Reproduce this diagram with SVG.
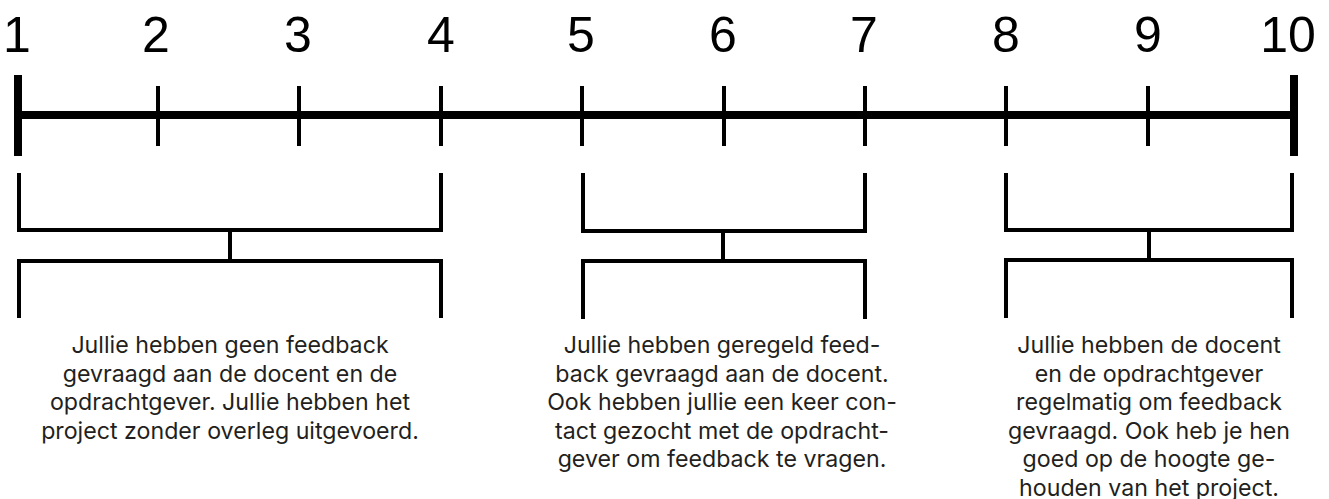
<svg xmlns="http://www.w3.org/2000/svg" width="1329" height="499" viewBox="0 0 1329 499">
<style>
.num{font-family:"Liberation Sans",Arial,sans-serif;font-size:50px;fill:#000;text-anchor:middle}
.txt{font-family:Inter,"Liberation Sans",sans-serif;font-size:23.2px;fill:#231f20;text-anchor:middle}
.axis{stroke:#000;stroke-width:8;fill:none}
.tick{stroke:#000;stroke-width:4;fill:none}
.br{stroke:#000;stroke-width:4;fill:none;stroke-linecap:butt}
</style>
<rect width="1329" height="499" fill="#fff"/>
<g id="scale">
<line class="axis" x1="18" y1="115" x2="1294" y2="115"/>
<line class="axis" x1="18" y1="75" x2="18" y2="156"/>
<line class="axis" x1="1294" y1="75" x2="1294" y2="156"/>
<g class="tick">
<line x1="158" y1="86" x2="158" y2="146"/>
<line x1="299" y1="86" x2="299" y2="146"/>
<line x1="441" y1="86" x2="441" y2="146"/>
<line x1="582" y1="86" x2="582" y2="146"/>
<line x1="724" y1="86" x2="724" y2="146"/>
<line x1="865" y1="86" x2="865" y2="146"/>
<line x1="1006" y1="86" x2="1006" y2="146"/>
<line x1="1148" y1="86" x2="1148" y2="146"/>
</g>
</g>
<g id="numbers">
<text class="num" x="17" y="52">1</text>
<text class="num" x="156" y="52">2</text>
<text class="num" x="298" y="52">3</text>
<text class="num" x="441" y="52">4</text>
<text class="num" x="581" y="52">5</text>
<text class="num" x="723" y="52">6</text>
<text class="num" x="864" y="52">7</text>
<text class="num" x="1006" y="52">8</text>
<text class="num" x="1148" y="52">9</text>
<text class="num" x="1288" y="52">10</text>
</g>
<g id="connectors">
<path class="br" d="M19,173 V230 H441 V173 M230,230 V261 M19,318 V261 H441 V318"/>
<path class="br" d="M583,173 V231 H865 V173 M723,231 V261 M583,319 V261 H865 V319"/>
<path class="br" d="M1006,173 V230 H1292 V173 M1149,230 V260 M1006,318 V260 H1292 V318"/>
</g>
<g id="node-low">
<text class="txt" x="230" y="353">Jullie hebben geen feedback</text>
<text class="txt" x="230" y="381.5">gevraagd aan de docent en de</text>
<text class="txt" x="230" y="410">opdrachtgever. Jullie hebben het</text>
<text class="txt" x="230" y="438.5">project zonder overleg uitgevoerd.</text>
</g>
<g id="node-mid">
<text class="txt" x="722" y="353">Jullie hebben geregeld feed-</text>
<text class="txt" x="722" y="381.5">back gevraagd aan de docent.</text>
<text class="txt" x="722" y="410">Ook hebben jullie een keer con-</text>
<text class="txt" x="722" y="438.5">tact gezocht met de opdracht-</text>
<text class="txt" x="722" y="467">gever om feedback te vragen.</text>
</g>
<g id="node-high">
<text class="txt" x="1149" y="353">Jullie hebben de docent</text>
<text class="txt" x="1149" y="381.5">en de opdrachtgever</text>
<text class="txt" x="1149" y="410">regelmatig om feedback</text>
<text class="txt" x="1149" y="438.5">gevraagd. Ook heb je hen</text>
<text class="txt" x="1149" y="467">goed op de hoogte ge-</text>
<text class="txt" x="1149" y="495.5">houden van het project.</text>
</g>
</svg>
